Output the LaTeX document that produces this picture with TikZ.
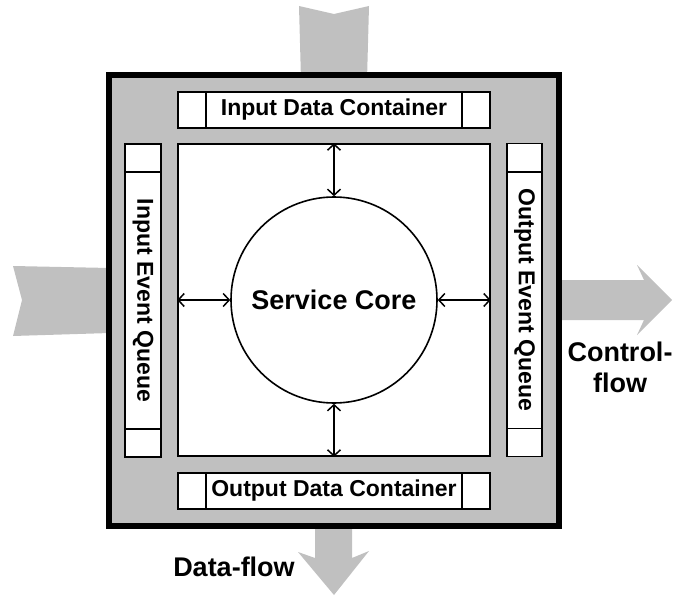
\documentclass[tikz,border=0pt]{standalone}
\usepackage{fontspec}
\setmainfont{Liberation Sans}
\usetikzlibrary{arrows.meta}
\definecolor{flowgray}{HTML}{C0C0C0}
\tikzset{
  flow/.style={fill=flowgray,draw=none},
  outerbox/.style={draw=black,line width=6pt,fill=flowgray,minimum width=450pt,minimum height=451pt,inner sep=0pt},
  thin/.style={draw=black,line width=1.6pt},
  box/.style={thin,fill=white,inner sep=0pt},
  lbl/.style={font=\bfseries\fontsize{23}{27}\selectfont},
  biglbl/.style={font=\bfseries\fontsize{27}{31}\selectfont,align=center},
  link/.style={line width=1.5pt,{Straight Barb[length=6pt,width=13pt]}-{Straight Barb[length=6pt,width=13pt]}}
}
\begin{document}
\begin{tikzpicture}[x=1pt,y=-1pt]
\useasboundingbox (0,0) rectangle (673,602);
% gray flow arrows
\fill[flow] (299,6) -- (334,14) -- (369,6) -- (367,80) -- (301,80) -- cycle;
\fill[flow] (13,266) -- (110,268) -- (110,333) -- (13,336) -- (22,300) -- cycle;
\fill[flow] (556,280) -- (644,280) -- (637,265) -- (672,300) -- (637,335) -- (644,320) -- (556,320) -- cycle;
\fill[flow] (315,520) -- (352,520) -- (352,558) -- (369,551) -- (334,595) -- (298,552) -- (315,558) -- cycle;
% outer box
\node[outerbox] (outer) at (334,300.5) {};
% inner square and core
\node[box,minimum width=312pt,minimum height=312pt] (sq) at (334,300) {};
\node[box,circle,minimum size=206pt,font=\bfseries\fontsize{27}{31}\selectfont] (core) at (334,300) {Service Core};
% data containers
\node[box,minimum width=312pt,minimum height=36pt] (idc) at (334,110) {};
\node[lbl] at (idc.center) {Input Data Container};
\draw[thin] ([xshift=29pt]idc.north west) -- ([xshift=29pt]idc.south west);
\draw[thin] ([xshift=-29pt]idc.north east) -- ([xshift=-29pt]idc.south east);
\node[box,minimum width=312pt,minimum height=36pt] (odc) at (334,491) {};
\node[lbl] at (odc.center) {Output Data Container};
\draw[thin] ([xshift=29pt]odc.north west) -- ([xshift=29pt]odc.south west);
\draw[thin] ([xshift=-29pt]odc.north east) -- ([xshift=-29pt]odc.south east);
% event queues
\node[box,minimum width=36pt,minimum height=313pt] (ieq) at (143,300.5) {};
\node[lbl,rotate=-90] at (ieq.center) {Input Event Queue};
\draw[thin] ([yshift=-29pt]ieq.north west) -- ([yshift=-29pt]ieq.north east);
\draw[thin] ([yshift=29pt]ieq.south west) -- ([yshift=29pt]ieq.south east);
\node[box,minimum width=35pt,minimum height=313pt] (oeq) at (524.5,300) {};
\node[lbl,rotate=-90] at (oeq.center) {Output Event Queue};
\draw[thin] ([yshift=-29pt]oeq.north west) -- ([yshift=-29pt]oeq.north east);
\draw[thin] ([yshift=29pt]oeq.south west) -- ([yshift=29pt]oeq.south east);
% links
\draw[link] (sq.north) -- (core.north);
\draw[link] (sq.south) -- (core.south);
\draw[link] (sq.west) -- (core.west);
\draw[link] (sq.east) -- (core.east);
% flow labels
\node[biglbl] (cf) at (620,367) {Control-\\flow};
\node[biglbl] (df) at (234,567) {Data-flow};
\end{tikzpicture}
\end{document}
